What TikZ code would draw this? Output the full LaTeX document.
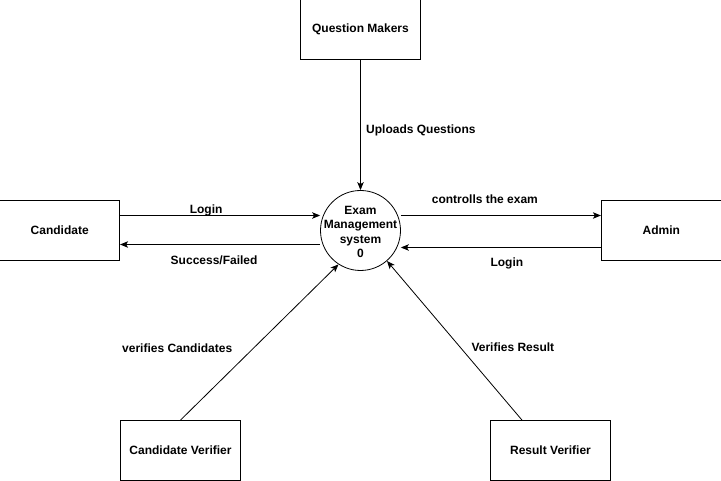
\documentclass[tikz,border=0pt]{standalone}
\usepackage{fontspec}
\setmainfont{Liberation Sans}
\usetikzlibrary{arrows.meta}
\usetikzlibrary{positioning}
\tikzset{
    entity/.style={
           rectangle,
           draw=black, line width=0.8pt,
           minimum width=120pt,
           minimum height=60pt,
           inner sep=2pt,
           text centered,
           },
    process/.style={
           circle,
           draw=black, line width=0.8pt,
           minimum size=80pt,
           inner sep=0pt,
           },
}

\begin{document}
\begin{tikzpicture}[x=1pt,y=-1pt,->,>={Stealth[length=8pt,width=6.5pt,inset=2pt]},line width=0.8pt,
    every node/.style={font=\fontsize{12}{14.3}\selectfont\bfseries}]

    \useasboundingbox (0,0) rectangle (721,481);

    \node[process,label={[align=center,yshift=-1.5pt]center:Exam\\Management\\system\\0}] at (360.5,230.5)
        (E) {};
    \node[entity,above=130pt of E]
        (Q) {Question Makers};
    \node[entity,left=200pt of E]
        (C) {Candidate};
    \node[entity,right=200pt of E]
        (A) {Admin};
    \node[entity] at (180.5,450.5)
        (CV) {Candidate Verifier};
    \node[entity] at (550.5,450.5)
        (RV) {Result Verifier};

    \draw (Q) -- node[pos=0.54,anchor=west,xshift=2pt] (uq) {Uploads Questions} (E);
    \draw ([yshift=15pt]C.east) -- node[pos=0.43,yshift=5pt] (lc) {Login} ([yshift=15pt]E.west);
    \draw ([yshift=-14pt]E.west) -- node[pos=0.53,yshift=-15.5pt] (sf) {Success/Failed} ([yshift=-14pt]C.east);
    \draw ([yshift=15pt]E.east) -- node[pos=0.42,yshift=16pt] (ce) {controlls the exam} ([yshift=15pt]A.west);
    \draw ([yshift=-17pt]A.west) -- node[pos=0.47,yshift=-15.5pt] (la) {Login} ([yshift=-17pt]E.east);
    \draw (CV.north) -- node[pos=0.46,xshift=-76pt] (vc) {verifies Candidates} (E.237);
    \draw ([xshift=-28.5pt]RV.north) -- node[pos=0.46,xshift=53pt] (vr) {Verifies Result} (E.311);

\end{tikzpicture}
\end{document}
